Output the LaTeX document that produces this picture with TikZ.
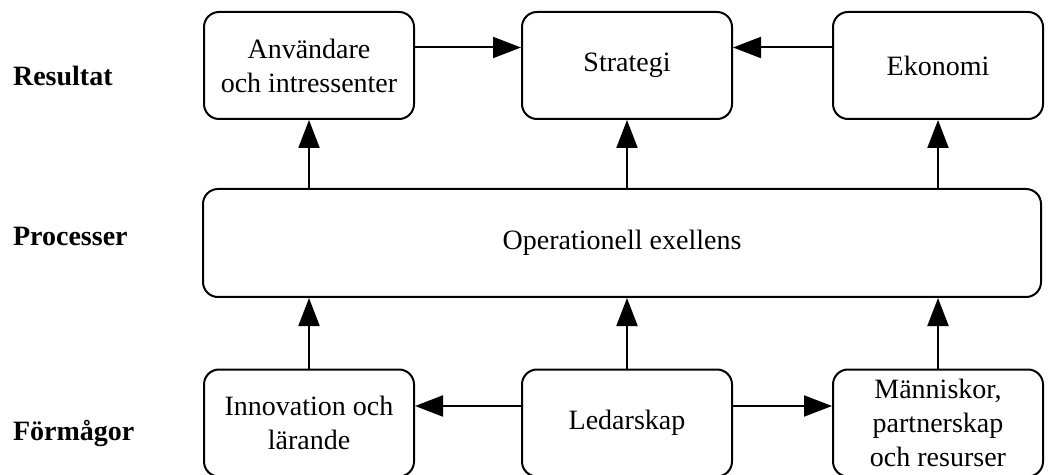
\documentclass[tikz,border=0pt]{standalone}
\usepackage{fontspec}
\setmainfont{Liberation Serif}
\usetikzlibrary{arrows.meta}

\begin{document}
\begin{tikzpicture}[x=0.5pt, y=-0.5pt,
    box/.style={draw, line width=1pt, rounded corners=7.5pt, align=center,
        minimum width=105pt, minimum height=53.5pt, inner sep=2pt,
        font=\fontsize{14}{17}\selectfont},
    level/.style={anchor=west, font=\bfseries\fontsize{14}{17}\selectfont},
    arr/.style={line width=1pt, -{Triangle[length=14pt, width=10.5pt]}}]

    \useasboundingbox (0,0) rectangle (1058,475);

    % levels
    \node[level] (resultat) at (6,76) {Resultat};
    \node[level] (processer) at (6,236) {Processer};
    \node[level] (formagor) at (6,433) {Förmågor};

    % top row
    \node[box] (anv) at (309,65.5) {Användare\\och intressenter};
    \node[box] (strat) at (627,65.5) {Strategi};
    \node[box] (eko) at (938,65.5) {Ekonomi};

    % middle
    \node[box, minimum width=419pt, minimum height=54pt] (oper) at (622,243) {Operationell exellens};

    % bottom row
    \node[box] (innov) at (309,423) {Innovation och\\lärande};
    \node[box] (ledar) at (627,423) {Ledarskap};
    \node[box] (mann) at (938,423) {Människor,\\partnerskap\\och resurser};

    % arrows
    \draw[arr] ([yshift=9pt]anv.east) -- ([yshift=9pt]strat.west);
    \draw[arr] ([yshift=9pt]eko.west) -- ([yshift=9pt]strat.east);
    \draw[arr] ([yshift=8.5pt]ledar.west) -- ([yshift=8.5pt]innov.east);
    \draw[arr] ([yshift=8.5pt]ledar.east) -- ([yshift=8.5pt]mann.west);

    \foreach \n in {anv, strat, eko}
        \draw[arr] (\n.south |- oper.north) -- (\n.south);
    \foreach \n in {innov, ledar, mann}
        \draw[arr] (\n.north) -- (\n.north |- oper.south);
\end{tikzpicture}
\end{document}
